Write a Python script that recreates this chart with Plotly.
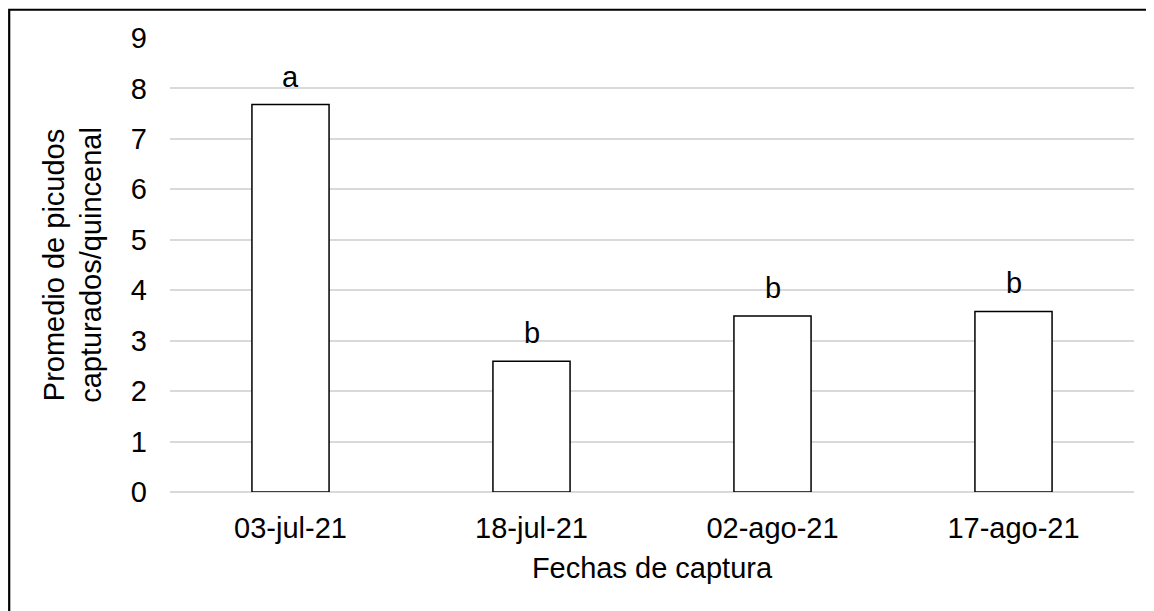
import plotly.graph_objects as go

fechas = ["03-jul-21", "18-jul-21", "02-ago-21", "17-ago-21"]
promedios = [7.68, 2.59, 3.49, 3.58]
letras = ["a", "b", "b", "b"]
y_ticks = [0, 1, 2, 3, 4, 5, 6, 7, 8, 9]

FONT = "Liberation Sans, Arial, sans-serif"
FS = 29

W, H = 1154, 611
ML, MR, MT, MB = 162, 28, 29.5, 127
PW = W - ML - MR
PH = H - MT - MB

fig = go.Figure()
fig.add_trace(go.Bar(
    x=fechas, y=promedios,
    marker=dict(color="white", line=dict(color="black", width=1.5)),
    width=0.32,
    hoverinfo="skip",
))

for f, v, l in zip(fechas, promedios, letras):
    fig.add_annotation(x=f, y=v, text=l, showarrow=False, yanchor="bottom",
                       yshift=10, font=dict(family=FONT, size=FS, color="black"))

fig.update_layout(
    width=W, height=H,
    margin=dict(l=ML, r=MR, t=MT, b=MB, autoexpand=False),
    paper_bgcolor="white", plot_bgcolor="white",
    showlegend=False,
    font=dict(family=FONT, size=FS, color="black"),
    xaxis=dict(
        showgrid=False, showline=False, ticks="", automargin=False,
        tickfont=dict(size=FS), ticklabelstandoff=16,
        title=dict(text="Fechas de captura", font=dict(size=FS), standoff=14),
    ),
    yaxis=dict(
        range=[0, 9], tickvals=y_ticks, showgrid=True, automargin=False,
        gridcolor="#d9d9d9", gridwidth=1.5, zeroline=True, zerolinecolor="#d9d9d9",
        zerolinewidth=1.5, showline=False, ticks="", ticklabelstandoff=22,
        tickfont=dict(size=FS),
        title=dict(text="Promedio de picudos<br>capturados/quincenal",
                   font=dict(size=FS), standoff=20),
    ),
    shapes=[dict(type="rect", xref="paper", yref="paper",
                 x0=(-ML + 1.2) / PW, x1=1 + (MR + 20) / PW,
                 y0=-(MB + 20) / PH, y1=1 + (MT - 1.2) / PH,
                 line=dict(color="black", width=2.2), fillcolor="rgba(0,0,0,0)",
                 layer="below")],
)

fig.write_html("out.html")
